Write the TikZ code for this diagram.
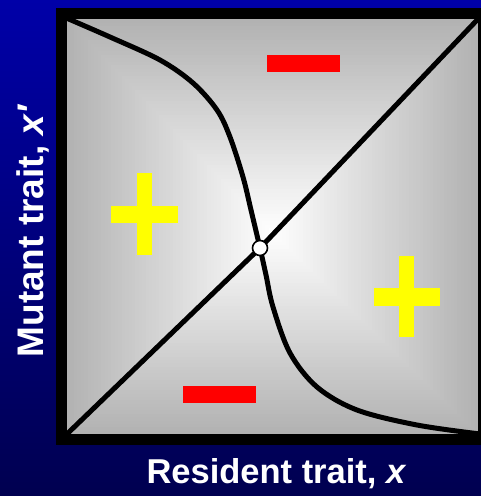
\documentclass[tikz,border=0pt]{standalone}
\usepackage{fontspec}
\setmainfont{Liberation Sans}
\definecolor{bgtop}{RGB}{0,0,168}
\definecolor{bgbot}{RGB}{0,0,80}
\definecolor{edgegray}{RGB}{178,178,178}
\definecolor{plusyellow}{RGB}{255,255,0}
\definecolor{minusred}{RGB}{255,0,0}
\tikzset{
  curveline/.style={line width=5pt, line join=round, line cap=round},
  diagline/.style={line width=5pt},
  framebox/.style={line width=11pt, draw=black},
  plussign/.style={fill=plusyellow},
  minussign/.style={fill=minusred},
  axislabel/.style={text=white, font=\fontsize{34.5}{40}\selectfont\bfseries, inner sep=0pt},
  esspoint/.style={circle, draw=black, fill=white, line width=1.6pt, minimum size=15pt, inner sep=0pt}
}
\begin{document}
\begin{tikzpicture}[x=1pt,y=-1pt]
\useasboundingbox (0,0) rectangle (481,496);
% background
\shade[top color=bgtop, bottom color=bgbot] (0,0) rectangle (481,496);
% rectangular gradient
\foreach \i in {60,59,...,1}{
  \pgfmathsetmacro{\f}{\i/60}
  \pgfmathsetmacro{\p}{100*\f}
  \fill[edgegray!\p!white] ({272-\f*205},{232-\f*213}) rectangle ({272+\f*206},{232+\f*202});
}
\coordinate (bl) at (67,434);
\coordinate (tr) at (478,19);
\coordinate (c) at (260,248);
\begin{scope}
  \clip (67,19) rectangle (478,434);
  \draw[diagline] (bl) -- (c) -- (tr);
  \draw[curveline] plot[smooth, tension=0.55] coordinates {
    (64,17) (110,37) (160,60) (193,83) (217,110) (230,137) (243,177) (251,210) (260,248)
    (266,275) (273,307) (290,353) (317,387) (357,410) (417,425) (480,434)};
\end{scope}
\node[esspoint] (ess) at (c) {};
% signs
\fill[minussign] (267,55) rectangle (340,72);
\fill[minussign] (183,386) rectangle (256,403);
\fill[plussign] (137,173) rectangle (152,255);
\fill[plussign] (111,206) rectangle (178,223);
\fill[plussign] (399,256) rectangle (414,337);
\fill[plussign] (374,288) rectangle (440,306);
% frame
\draw[framebox] (61.5,13.5) rectangle (483.5,439.5);
% labels
\node[axislabel, anchor=base] (reslabel) at (276.5,483) {Resident trait, \textit{x}};
\node[axislabel, anchor=base, rotate=90, font=\fontsize{37}{40}\selectfont\bfseries] (mutlabel) at (43,231) {Mutant trait, \textit{x′}};
\end{tikzpicture}
\end{document}
